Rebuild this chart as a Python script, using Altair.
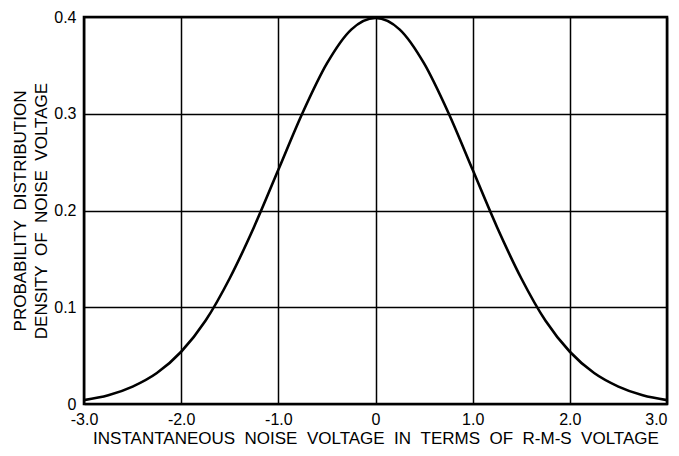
import altair as alt
import pandas as pd

# Values (noise voltage in r-m-s units vs probability density)
x_vals = [-3.0, -2.75, -2.5, -2.25, -2.0, -1.75, -1.5, -1.25, -1.0, -0.75, -0.5, -0.25, 0.0,
          0.25, 0.5, 0.75, 1.0, 1.25, 1.5, 1.75, 2.0, 2.25, 2.5, 2.75, 3.0]
y_vals = [0.004, 0.009, 0.018, 0.032, 0.054, 0.086, 0.130, 0.183, 0.242, 0.301, 0.352, 0.387, 0.399,
          0.387, 0.352, 0.301, 0.242, 0.183, 0.130, 0.086, 0.054, 0.032, 0.018, 0.009, 0.004]
x_ticks = [-3, -2, -1, 0, 1, 2, 3]
y_ticks = [0, 0.1, 0.2, 0.3, 0.4]

df = pd.DataFrame({"x": x_vals, "y": y_vals})

FONT = "Liberation Sans"
SP = "\u00a0\u00a0"

x_title = SP.join(["INSTANTANEOUS", "NOISE", "VOLTAGE", "IN", "TERMS", "OF", "R-M-S", "VOLTAGE"])
y_title = [SP.join(["PROBABILITY", "DISTRIBUTION"]), SP.join(["DENSITY", "OF", "NOISE", "VOLTAGE"])]

label_expr = "datum.value == 0 ? '0' : replace(format(datum.value, '.1f'), '\u2212', '-')"

chart = alt.Chart(df).mark_line(
    color="black", strokeWidth=2.6, interpolate="monotone"
).encode(
    x=alt.X("x:Q", scale=alt.Scale(domain=[-3, 3], nice=False, zero=False),
            axis=alt.Axis(values=x_ticks,
                          labelExpr=label_expr,
                          title=x_title,
                          titleFontSize=17, titleFontWeight="normal", titlePadding=3,
                          labelFontSize=16, labelPadding=7, ticks=False, domain=False,
                          labelAlign=alt.expr("datum.value == 3 ? 'right' : 'center'"),
                          labelFlush=False,
                          grid=True, gridColor="black", gridWidth=1.5, gridOpacity=1)),
    y=alt.Y("y:Q", scale=alt.Scale(domain=[0, 0.4], nice=False),
            axis=alt.Axis(values=y_ticks,
                          labelExpr=label_expr,
                          title=y_title,
                          titleFontSize=17, titleFontWeight="normal", titlePadding=3,
                          titleLineHeight=21,
                          labelFontSize=16, labelPadding=8, ticks=False, domain=False,
                          labelFlush=False,
                          grid=True, gridColor="black", gridWidth=1.5, gridOpacity=1)),
).properties(
    width=583, height=387,
    autosize=alt.AutoSizeParams(type="none"),
    padding={"left": 76, "top": 9, "right": 4, "bottom": 44},
    background="white",
).configure_view(
    stroke="black", strokeWidth=2.6
).configure_axis(
    labelFont=FONT, titleFont=FONT, labelColor="black", titleColor="black"
)

chart.save("out.html", embed_options={"renderer": "svg", "actions": False})
